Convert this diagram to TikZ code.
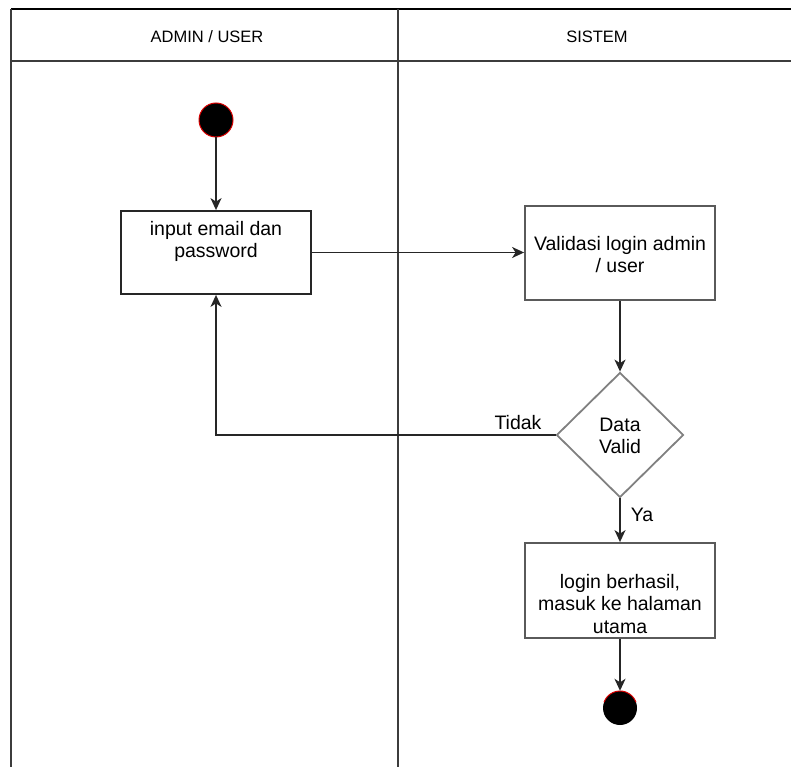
\documentclass[tikz,border=0pt]{standalone}
\usepackage{fontspec}
\setmainfont{Liberation Sans}
\usetikzlibrary{shapes.geometric,arrows.meta}
\definecolor{lanegray}{HTML}{3C3C3C}
\definecolor{boxgray}{HTML}{5A5A5A}
\definecolor{diagray}{HTML}{808080}
\begin{document}
\begin{tikzpicture}[x=1pt,y=-1pt,
  lane/.style={draw=lanegray,line width=1.6pt},
  actbox/.style={draw=#1,line width=1.8pt,rectangle,inner sep=0pt},
  txt/.style={font=\fontsize{19.5}{22.5}\selectfont,align=center,inner sep=0pt},
  hdr/.style={font=\fontsize{16.5}{20}\selectfont,inner sep=0pt},
  flow/.style={draw=black!85,line width=1.7pt,-{Stealth[length=12pt,width=11pt,inset=3.5pt]}},
  startdot/.style={circle,fill=black,draw=red!85!black,line width=1pt,minimum size=34pt,inner sep=0pt}
]
\useasboundingbox (0,0) rectangle (791,767);
% swimlane frame
\draw[black,line width=1.8pt] (11,9) -- (791,9);
\draw[lane] (11,9) -- (11,767);
\draw[lane] (11,61) -- (791,61);
\draw[lane] (398,9) -- (398,767);
\node[hdr] (h1) at (207,37) {ADMIN / USER};
\node[hdr] (h2) at (597,37) {SISTEM};

% start
\node[startdot] (start) at (216,120) {};

% box 1
\node[actbox=black!85,minimum width=190pt,minimum height=83pt] (b1) at (216,252.5) {};
\node[txt] (t1) at (216,241.5) {input email dan\\password};

% box 2
\node[actbox=boxgray,minimum width=190pt,minimum height=94pt] (b2) at (620,253) {};
\node[txt] (t2) at (620,254.5) {Validasi login admin\\/ user};

% diamond
\node[diamond,draw=diagray,line width=1.8pt,minimum width=127pt,minimum height=125pt,inner sep=0pt] (d) at (620,435) {};
\node[txt] (td) at (620,436) {Data\\Valid};

% box 3
\node[actbox=boxgray,minimum width=190pt,minimum height=95pt] (b3) at (620,590.5) {};
\node[txt] (t3) at (620,604) {login berhasil,\\masuk ke halaman\\utama};

% end
\node[circle,fill=black,minimum size=34pt,inner sep=0pt] (end) at (620,708) {};
\draw[red!85!black,line width=1pt] ([shift={(160:17pt)}]end.center) arc[start angle=160,end angle=20,radius=17pt];

% connectors
\draw[flow] (start) -- (b1.north);
\draw[flow] (b1.east) -- (b1.east -| b2.west);
\draw[flow] (b2.south) -- (d.north);
\draw[flow] (d.west) -| (b1.south);
\draw[flow] (d.south) -- (b3.north);
\draw[flow] (b3.south) -- (end.north);

% labels
\node[txt,anchor=center] (ltidak) at (518,423) {Tidak};
\node[txt,anchor=center] (lya) at (642,515) {Ya};
\end{tikzpicture}
\end{document}
